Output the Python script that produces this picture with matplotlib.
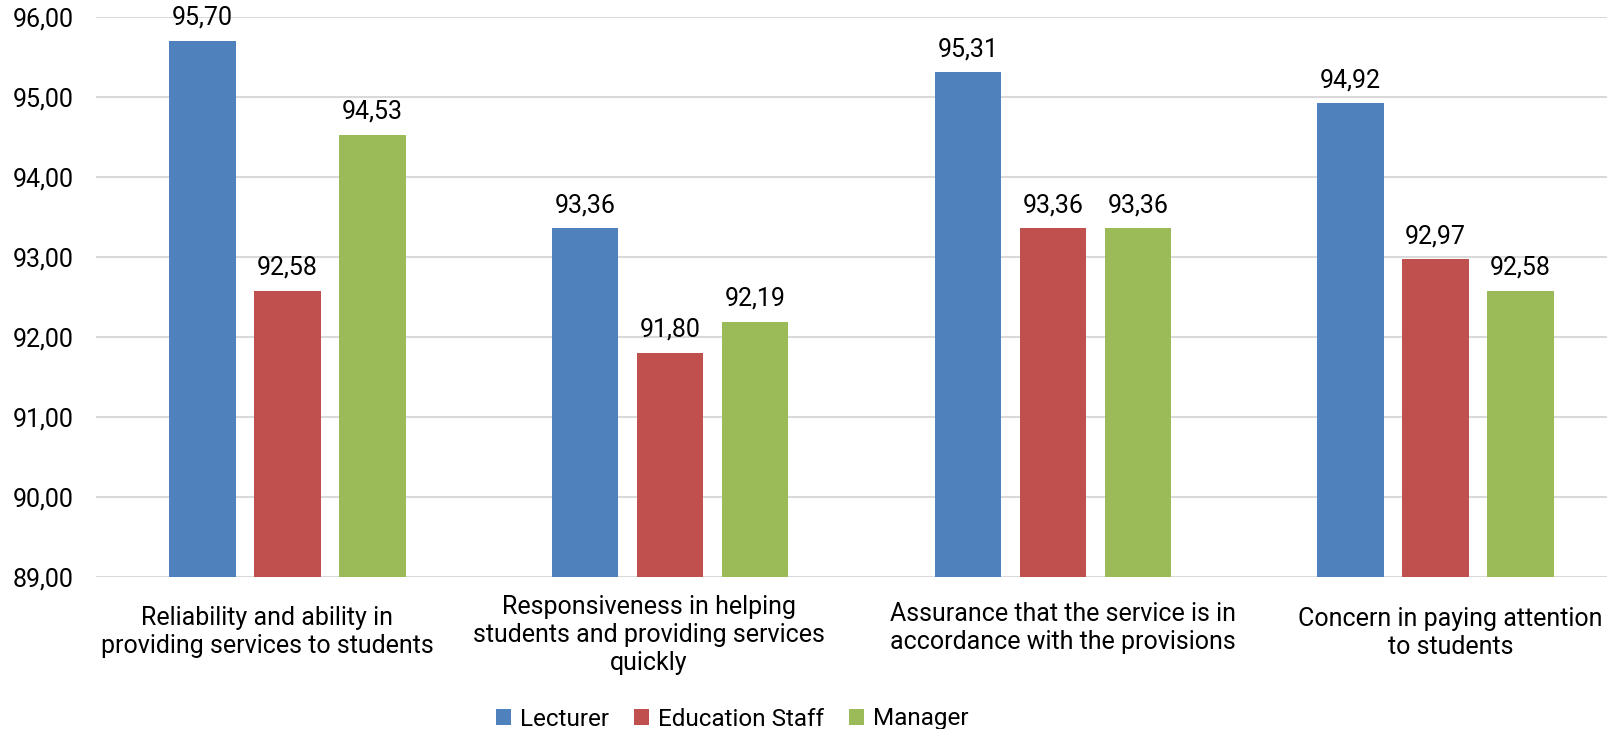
import matplotlib.pyplot as plt
import matplotlib.transforms as mtransforms
import numpy as np

plt.rcParams['font.family'] = ['Roboto', 'DejaVu Sans']

categories = [
    "Reliability and ability in\nproviding services to students",
    "Responsiveness in helping\nstudents and providing services\nquickly",
    "Assurance that the service is in\naccordance with the provisions",
    "Concern in paying attention\nto students",
]
series_names = ["Lecturer", "Education Staff", "Manager"]
lecturer = [95.70, 93.36, 95.31, 94.92]
education_staff = [92.58, 91.80, 93.36, 92.97]
manager = [94.53, 92.19, 93.36, 92.58]
colors = ["#4F81BD", "#C0504D", "#9BBB59"]

# small nudges (pixels) of the category labels, the way the original places them
label_dx = [-20, -21, 10, 15]
label_dy = [0, 11, 4, -1]

fig = plt.figure(figsize=(16.08, 7.29), dpi=100)
# plot area runs slightly past the right edge of the figure, as in the original
ax = fig.add_axes([96 / 1608, 1 - 577 / 729, 1531 / 1608, (577 - 17) / 729])

x = np.arange(len(categories))
width = 0.174
step = 0.222
for i, (vals, name) in enumerate(zip([lecturer, education_staff, manager], series_names)):
    pos = x + (i - 1) * step
    bars = ax.bar(pos, vals, width, color=colors[i], label=name, zorder=3)
    for b, v in zip(bars, vals):
        ax.annotate(f"{v:.2f}".replace(".", ","), (b.get_x() + b.get_width() / 2, v),
                    xytext=(0, 8), textcoords="offset points",
                    ha="center", va="bottom", fontsize=18)

ax.set_ylim(89, 96)
ax.set_xlim(-0.5, len(categories) - 0.5)
yt = np.arange(89, 96.5, 1)
ax.set_yticks(yt)
ax.set_yticklabels([f"{t:.2f}".replace(".", ",") for t in yt], fontsize=18)
ax.set_xticks(x)
ax.set_xticklabels(categories, fontsize=18)
ax.tick_params(axis="both", length=0)
ax.tick_params(axis="x", pad=21)
ax.tick_params(axis="y", pad=16)
for lab, dx, dy in zip(ax.get_xticklabels(), label_dx, label_dy):
    lab.set_transform(lab.get_transform() +
                      mtransforms.ScaledTranslation(dx / 100, dy / 100, fig.dpi_scale_trans))
ax.yaxis.grid(True, color="#D9D9D9", linewidth=1.5, zorder=0)
ax.set_axisbelow(True)
for s in ax.spines.values():
    s.set_visible(False)

fig.legend(loc="center", bbox_to_anchor=(732 / 1608, 1 - 719 / 729), ncol=3,
           frameon=False, fontsize=17.5, handlelength=0.62, handleheight=0.62,
           handletextpad=0.37, columnspacing=1.03, borderpad=0.2)

fig.savefig("out.png", dpi=100)
